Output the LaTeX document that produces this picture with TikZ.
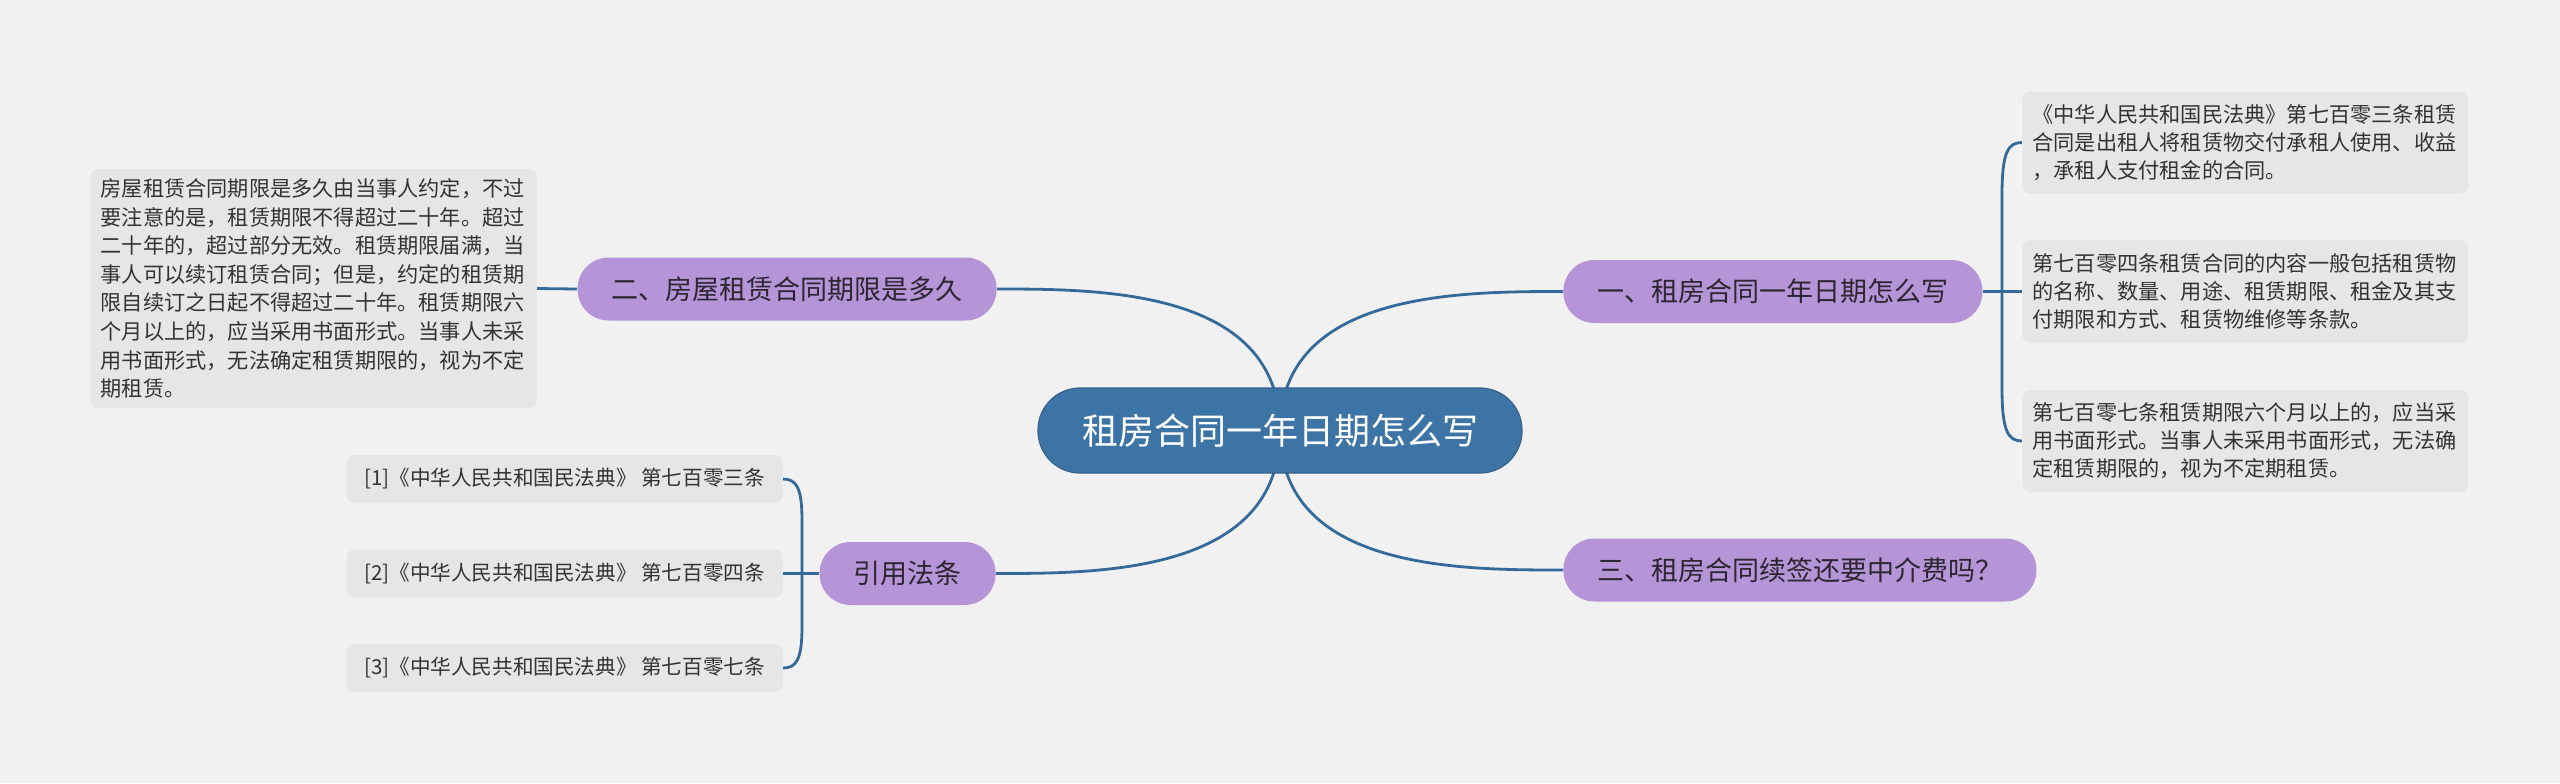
\documentclass[tikz,border=0pt]{standalone}
\usepackage{fontspec}
\setmainfont{Noto Sans CJK SC}
\usetikzlibrary{calc}
\definecolor{bgc}{HTML}{F1F1F1}
\definecolor{boxc}{HTML}{E6E6E6}
\definecolor{purp}{HTML}{B595D8}
\definecolor{cblue}{HTML}{3D74A6}
\definecolor{lnc}{HTML}{336A99}
\definecolor{txt}{HTML}{333333}
\definecolor{ptxt}{HTML}{2B2630}
\pgfdeclarelayer{bg}
\pgfsetlayers{bg,main}
\tikzset{
  central/.style={fill=cblue, draw=cblue!85!black, line width=0.6pt, text=white,
    font=\fontsize{18}{22}\selectfont, rounded corners=21pt,
    minimum height=42.5pt, inner xsep=22pt, inner ysep=0pt},
  lvl/.style={fill=purp, text=ptxt, font=\fontsize{13.5}{16}\selectfont,
    rounded corners=15.5pt, minimum height=31.5pt, inner xsep=17pt, inner ysep=0pt},
  infobox/.style={fill=boxc, text=txt, rounded corners=4pt, align=left,
    font=\fontsize{10.6}{14}\selectfont, text width=213pt, inner xsep=5pt, inner ysep=0pt},
  refbox/.style={fill=boxc, text=txt, rounded corners=4pt,
    font=\fontsize{10.3}{13}\selectfont, minimum width=218pt, minimum height=24pt, inner sep=0pt},
  conn/.style={draw=lnc, line width=1.4pt}
}
\begin{document}
\begin{tikzpicture}[x=0.5pt,y=-0.5pt]
\useasboundingbox (0,0) rectangle (2560,783);

% central
\node[central] (C) at (1280,430.5) {租房合同一年日期怎么写};

% level 1
\node[lvl, anchor=west] (n1) at (1563,291.5) {一、租房合同一年日期怎么写};
\node[lvl, anchor=west] (n3) at (1563,570) {三、租房合同续签还要中介费吗？};
\node[lvl, anchor=east] (n2) at (997,289) {二、房屋租赁合同期限是多久};
\node[lvl, anchor=east] (nr) at (996,573.5) {引用法条};

% right info boxes
\node[infobox, anchor=west, minimum height=51pt] (r1) at (2022,142.5) {《中华人民共和国民法典》第七百零三条租赁\\合同是出租人将租赁物交付承租人使用、收益\\，承租人支付租金的合同。};
\node[infobox, anchor=west, minimum height=51.5pt] (r2) at (2022,291.5) {第七百零四条租赁合同的内容一般包括租赁物\\的名称、数量、用途、租赁期限、租金及其支\\付期限和方式、租赁物维修等条款。};
\node[infobox, anchor=west, minimum height=51pt] (r3) at (2022,441) {第七百零七条租赁期限六个月以上的，应当采\\用书面形式。当事人未采用书面形式，无法确\\定租赁期限的，视为不定期租赁。};

% left info box
\node[infobox, anchor=east, minimum height=119.5pt, font=\fontsize{10.6}{14.3}\selectfont] (l1) at (537,288.5) {房屋租赁合同期限是多久由当事人约定，不过\\要注意的是，租赁期限不得超过二十年。超过\\二十年的，超过部分无效。租赁期限届满，当\\事人可以续订租赁合同；但是，约定的租赁期\\限自续订之日起不得超过二十年。租赁期限六\\个月以上的，应当采用书面形式。当事人未采\\用书面形式，无法确定租赁期限的，视为不定\\期租赁。};

% reference boxes
\node[refbox, anchor=east] (f1) at (783,479) {[1]《中华人民共和国民法典》 第七百零三条};
\node[refbox, anchor=east] (f2) at (783,573.5) {[2]《中华人民共和国民法典》 第七百零四条};
\node[refbox, anchor=east] (f3) at (783,668) {[3]《中华人民共和国民法典》 第七百零七条};

\coordinate (b1) at (2002,291.5);
\coordinate (b2) at (802,573.5);

\begin{pgfonlayer}{bg}
  \fill[bgc] (0,0) rectangle (2560,783);
  % central to level 1
  \draw[conn] (C.center) .. controls (1280,289) and (1100,289) .. (n2.east);
  \draw[conn] (C.center) .. controls (1280,573.5) and (1100,573.5) .. (nr.east);
  \draw[conn] (C.center) .. controls (1280,291.5) and (1460,291.5) .. (n1.west);
  \draw[conn] (C.center) .. controls (1280,570) and (1460,570) .. (n3.west);
  % n2 to left box
  \draw[conn] (n2.west) -- (l1.east);
  % right bracket
  \draw[conn] (n1.east) -- (b1) -- (r2.west);
  \draw[conn] (b1) -- (2002,195) .. controls (2002,152) and (2008,142.5) .. (r1.west);
  \draw[conn] (b1) -- (2002,388) .. controls (2002,431) and (2008,441) .. (r3.west);
  % left bracket
  \draw[conn] (nr.west) -- (b2) -- (f2.east);
  \draw[conn] (b2) -- (802,520) .. controls (802,487) and (796,479) .. (f1.east);
  \draw[conn] (b2) -- (802,627) .. controls (802,660) and (796,668) .. (f3.east);
\end{pgfonlayer}
\end{tikzpicture}
\end{document}
